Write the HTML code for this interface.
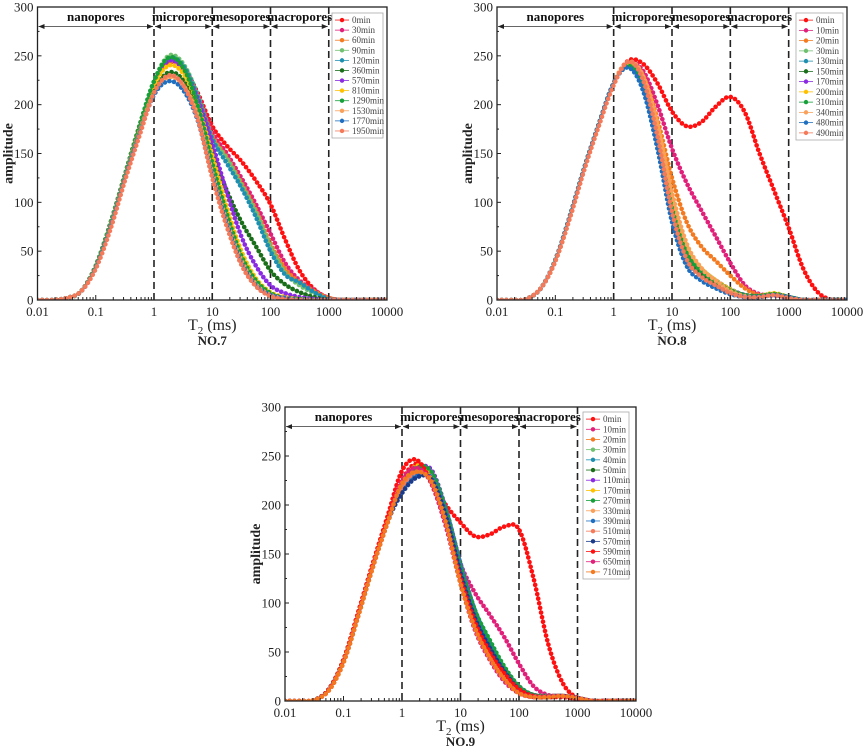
<!DOCTYPE html>
<html><head><meta charset="utf-8"><style>
html,body{margin:0;padding:0;background:#fff;}
svg{display:block;font-family:"Liberation Serif",serif;}
</style></head><body>
<svg id="fig" width="865" height="754" viewBox="0 0 865 754"></svg>
<script>
const xGrid = [-2,-1.75,-1.5,-1.25,-1,-0.75,-0.5,-0.25,0,0.25,0.5,0.75,1,1.25,1.5,1.75,2,2.25,2.5,2.75,3,3.25,3.5,3.75,4];
const yTicks = [0,50,100,150,200,250,300];
const xTickLabels = ["0.01","0.1","1","10","100","1000","10000"];
const regionNames = ["nanopores","micropores","mesopores","macropores"];

const p1Labels = ["0min","30min","60min","90min","120min","360min","570min","810min","1290min","1530min","1770min","1950min"];
const p1_0 = [0,0,2,9,35,78,128,178,220,243,238,212,178,158,142,122,98,62,30,11,2,0,0,0,0];
const p1_30 = [0,0,2,9,35,78,128,178,222,246,240,210,172,150,125,98,68,38,20,10,2,0,0,0,0];
const p1_60 = [0,0,2,9,35,78,128,178,222,244,238,208,168,146,120,92,58,32,18,9,2,0,0,0,0];
const p1_90 = [0,0,2,9,35,78,128,178,224,250,242,210,166,145,118,90,55,28,15,7,1,0,0,0,0];
const p1_120 = [0,0,2,9,35,78,128,178,222,247,240,208,165,140,115,85,50,26,18,8,1,0,0,0,0];
const p1_360 = [0,0,2,9,34,77,127,176,215,233,225,195,150,112,80,55,30,16,8,3,0,0,0,0,0];
const p1_570 = [0,0,2,9,35,78,128,178,222,245,236,205,160,110,65,35,15,7,3,1,0,0,0,0,0];
const p1_810 = [0,0,2,9,35,78,128,178,220,240,232,200,148,95,50,22,8,3,1,0,0,0,0,0,0];
const p1_1290 = [0,0,2,9,35,78,128,178,224,248,238,200,140,88,45,20,7,2,1,0,0,0,0,0,0];
const p1_1530 = [0,0,2,9,33,75,125,172,212,228,220,188,130,80,40,16,5,2,0,0,0,0,0,0,0];
const p1_1770 = [0,0,2,9,33,74,124,170,210,224,215,184,128,78,38,15,5,2,0,0,0,0,0,0,0];
const p1_1950 = [0,0,2,9,32,72,122,168,212,230,220,185,125,75,36,14,4,1,0,0,0,0,0,0,0];

const p2Labels = ["0min","10min","20min","30min","130min","150min","170min","200min","310min","340min","480min","490min"];
const p2_0 = [0,0,1,12,40,85,135,180,222,245,242,222,193,178,182,198,208,192,150,112,74,32,8,0,0];
const p2_10 = [0,0,1,12,40,85,135,180,222,243,235,200,155,120,92,65,38,15,6,5,3,0,0,0,0];
const p2_20 = [0,0,1,12,40,85,135,180,222,243,230,185,125,80,55,40,25,12,5,6,3,0,0,0,0];
const p2_30 = [0,0,1,12,40,85,135,180,222,242,226,170,95,50,32,20,11,5,4,6,3,0,0,0,0];
const p2_130 = [0,0,1,12,41,86,136,181,222,240,222,165,88,42,26,16,8,4,4,5,3,0,0,0,0];
const p2_150 = [0,0,1,12,41,86,136,181,222,241,224,168,92,46,28,18,10,5,4,6,3,0,0,0,0];
const p2_170 = [0,0,1,12,40,85,135,180,222,242,228,175,100,50,30,20,11,5,4,5,2,0,0,0,0];
const p2_200 = [0,0,1,12,40,85,135,180,222,243,228,178,105,55,32,20,11,4,4,7,3,0,0,0,0];
const p2_310 = [0,0,1,12,41,86,136,181,222,240,222,168,95,48,30,19,10,5,4,6,3,0,0,0,0];
const p2_340 = [0,0,1,12,40,85,135,180,222,244,230,180,110,58,33,20,9,4,3,5,2,0,0,0,0];
const p2_480 = [0,0,1,12,41,86,136,181,222,238,215,155,80,35,20,12,6,3,3,5,3,0,0,0,0];
const p2_490 = [0,0,1,12,40,84,134,179,220,244,226,168,90,42,24,15,7,3,3,5,2,0,0,0,0];

const p3Labels = ["0min","10min","20min","30min","40min","50min","110min","170min","270min","330min","390min","510min","570min","590min","650min","710min"];
const p3_0 = [0,0,1,12,42,90,140,185,225,242,225,200,182,168,170,178,175,125,58,18,3,0,0,0,0];
const p3_10 = [0,0,1,12,42,90,140,185,222,240,232,192,140,110,88,65,38,15,6,5,3,0,0,0,0];
const p3_20 = [0,0,1,12,41,88,138,183,220,236,230,188,132,88,58,32,14,6,5,5,3,0,0,0,0];
const p3_30 = [0,0,1,12,42,89,139,184,220,235,232,190,135,90,60,34,15,6,5,5,3,0,0,0,0];
const p3_40 = [0,0,1,12,41,88,138,183,215,232,232,195,140,92,60,33,14,6,5,5,3,0,0,0,0];
const p3_50 = [0,0,1,12,42,89,139,184,220,238,234,194,138,90,58,32,13,6,5,5,3,0,0,0,0];
const p3_110 = [0,0,1,12,40,87,137,182,218,236,236,196,140,92,60,34,15,6,5,5,3,0,0,0,0];
const p3_170 = [0,0,1,11,39,86,136,181,220,240,230,188,128,82,55,30,12,5,4,5,3,0,0,0,0];
const p3_270 = [0,0,1,12,41,88,138,183,220,238,234,195,138,92,62,35,15,6,5,5,3,0,0,0,0];
const p3_330 = [0,0,1,11,39,86,136,181,218,234,228,186,126,80,50,26,10,5,4,5,3,0,0,0,0];
const p3_390 = [0,0,1,12,41,88,138,183,214,230,228,190,132,85,55,30,12,5,4,5,3,0,0,0,0];
const p3_510 = [0,0,1,11,40,87,137,182,218,234,226,184,122,76,46,24,9,4,4,5,3,0,0,0,0];
const p3_570 = [0,0,1,12,41,88,138,183,212,228,226,188,130,84,54,30,12,5,4,5,3,0,0,0,0];
const p3_590 = [0,0,1,12,42,90,140,188,235,246,222,180,125,80,50,28,12,5,4,4,2,0,0,0,0];
const p3_650 = [0,0,1,11,40,87,137,182,225,238,222,178,120,72,42,20,8,4,5,5,3,0,0,0,0];
const p3_710 = [0,0,1,11,40,87,137,182,222,234,224,182,120,74,44,22,8,4,4,5,3,0,0,0,0];

const colors12 = ["#ff1010","#e0207a","#f47a20","#70c070","#1f8fb0","#1a6e1a","#8a2be2","#ffc000","#17a03a","#f9a05a","#1f6fc0","#f47a5a"];
const colors16 = ["#ff1010","#e0207a","#f47a20","#70c070","#1f8fb0","#1a6e1a","#8a2be2","#ffc000","#17a03a","#f9a05a","#1f6fc0","#f47a5a","#1a3a8a","#ff1010","#e0207a","#f47a20"];

const NS = "http://www.w3.org/2000/svg";
const svg = document.getElementById("fig");
function mk(tag, attrs, parent, txt){
  const e = document.createElementNS(NS, tag);
  for (const k in attrs) e.setAttribute(k, attrs[k]);
  if (txt !== undefined) e.textContent = txt;
  (parent || svg).appendChild(e);
  return e;
}
function smoothPath(pts){
  let d = "M" + pts[0][0].toFixed(1) + "," + pts[0][1].toFixed(1);
  for (let i = 0; i < pts.length - 1; i++){
    const p0 = pts[Math.max(0,i-1)], p1 = pts[i], p2 = pts[i+1], p3 = pts[Math.min(pts.length-1,i+2)];
    const c1x = p1[0] + (p2[0]-p0[0])/6, c1y = p1[1] + (p2[1]-p0[1])/6;
    const c2x = p2[0] - (p3[0]-p1[0])/6, c2y = p2[1] - (p3[1]-p1[1])/6;
    d += "C" + c1x.toFixed(1) + "," + c1y.toFixed(1) + " " + c2x.toFixed(1) + "," + c2y.toFixed(1) + " " + p2[0].toFixed(1) + "," + p2[1].toFixed(1);
  }
  return d;
}

function drawPanel(id, x0, x1, yT, yB, seriesList, labels, colors, legend, titleY, caption){
  const g = mk("g", {});
  
  
  const sx = v => x0 + (v + 2) / 6 * (x1 - x0);
  const sy = v => yB - v / 300 * (yB - yT);
  const cp = mk("clipPath", {id: "clip" + id}, g);
  mk("rect", {x: x0, y: yT, width: x1 - x0, height: yB - yT}, cp);
  for (let k = 0; k <= 3; k++){
    const l = mk("line", {x1: sx(k), x2: sx(k), y1: yT, y2: yB, stroke: "#222", "stroke-width": 1.6, "stroke-dasharray": "7,4"}, g);
    
    
  }
  const ay = sy(280);
  const bounds = [-2,0,1,2,3];
  for (let r = 0; r < 4; r++){
    const a = sx(bounds[r]) + 1, b = sx(bounds[r+1]) - 1;
    const ar = mk("g", {}, g);
    
    
    mk("line", {x1: a, x2: b, y1: ay, y2: ay, stroke: "#333", "stroke-width": 0.8}, ar);
    mk("path", {d: `M${a},${ay}l6,-2.5v5z M${b},${ay}l-6,-2.5v5z`, fill: "#222"}, ar);
    const t = mk("text", {x: (sx(bounds[r]) + sx(bounds[r+1])) / 2, y: yT + 14, "text-anchor": "middle", "font-size": "13", "font-weight": "bold", fill: "#111"}, g, regionNames[r]);
    
    
  }
  const sg = mk("g", {"clip-path": `url(#clip${id})`}, g);
  seriesList.forEach((vals, i) => {
    const pts = vals.map((v, j) => [sx(xGrid[j]), sy(v)]);
    const p = mk("path", {d: smoothPath(pts), fill: "none", stroke: colors[i], "stroke-width": 4.6, "stroke-dasharray": "0.1,4.6", "stroke-linecap": "round"}, sg);
    
    
    const pl = mk("path", {d: smoothPath(pts), fill: "none", stroke: colors[i], "stroke-width": 0.7, "stroke-opacity": 0.6}, sg);
    
    
  });
  const fr = mk("rect", {x: x0, y: yT, width: x1 - x0, height: yB - yT, fill: "none", stroke: "#222", "stroke-width": 1.3}, g);
  
  
  yTicks.forEach(v => {
    mk("line", {x1: x0, x2: x0 + 4, y1: sy(v), y2: sy(v), stroke: "#222"}, g);
    if (v < 300) mk("line", {x1: x0, x2: x0 + 2, y1: sy(v + 25), y2: sy(v + 25), stroke: "#222"}, g);
    const t = mk("text", {x: x0 - 4, y: sy(v) + 4.5, "text-anchor": "end", "font-size": "13", fill: "#222"}, g, String(v));
    
    
  });
  xTickLabels.forEach((lab, k) => {
    const lv = k - 2;
    mk("line", {x1: sx(lv), x2: sx(lv), y1: yB, y2: yB - 5, stroke: "#222"}, g);
    if (k < 6) for (let m = 2; m <= 9; m++){
      const xx = sx(lv + Math.log10(m));
      mk("line", {x1: xx, x2: xx, y1: yB, y2: yB - 3, stroke: "#222"}, g);
    }
    const t = mk("text", {x: sx(lv), y: yB + 16, "text-anchor": "middle", "font-size": "13", fill: "#222"}, g, lab);
    
    
  });
  const cx = (x0 + x1) / 2;
  const xt = mk("text", {x: cx, y: titleY, "text-anchor": "middle", "font-size": "16", fill: "#222"}, g);
  
  
  xt.innerHTML = 'T<tspan font-size="11" dy="4">2</tspan><tspan dy="-4"> (ms)</tspan>';
  const yl = mk("text", {x: 0, y: 0, transform: `translate(${x0 - 25},${(yT + yB) / 2}) rotate(-90)`, "text-anchor": "middle", "font-size": "14", "font-weight": "bold", fill: "#222"}, g, "amplitude");
  
  
  const cap = mk("text", {x: cx, y: titleY + 15, "text-anchor": "middle", "font-size": "13", "font-weight": "bold", fill: "#222"}, g, caption);
  
  
  const lg = mk("g", {}, g);
  
  
  mk("rect", {x: legend[0], y: legend[1], width: legend[2], height: legend[3], fill: "#fff", stroke: "#aaa", "stroke-width": 0.8}, lg);
  const step = (legend[3] - 4) / labels.length;
  labels.forEach((lab, i) => {
    const yy = legend[1] + 2 + step * (i + 0.5);
    const e = mk("g", {}, lg);
    
    
    mk("line", {x1: legend[0] + 3, x2: legend[0] + 17, y1: yy, y2: yy, stroke: colors[i], "stroke-width": 0.8}, e);
    mk("circle", {cx: legend[0] + 10, cy: yy, r: 2.2, fill: colors[i]}, e);
    mk("text", {x: legend[0] + 20, y: yy + 3, "font-size": "9", fill: "#444"}, e, lab);
  });
}

drawPanel("no7", 37.5, 387, 7, 300,
  [p1_0,p1_30,p1_60,p1_90,p1_120,p1_360,p1_570,p1_810,p1_1290,p1_1530,p1_1770,p1_1950],
  p1Labels, colors12, [332, 13, 51, 125], 330, "NO.7");
drawPanel("no8", 497, 847, 7, 300,
  [p2_0,p2_10,p2_20,p2_30,p2_130,p2_150,p2_170,p2_200,p2_310,p2_340,p2_480,p2_490],
  p2Labels, colors12, [796, 13, 47, 127], 330, "NO.8");
drawPanel("no9", 285, 636, 407, 701,
  [p3_0,p3_10,p3_20,p3_30,p3_40,p3_50,p3_110,p3_170,p3_270,p3_330,p3_390,p3_510,p3_570,p3_590,p3_650,p3_710],
  p3Labels, colors16, [583, 412, 46, 167], 731, "NO.9");
</script>
</body></html>
